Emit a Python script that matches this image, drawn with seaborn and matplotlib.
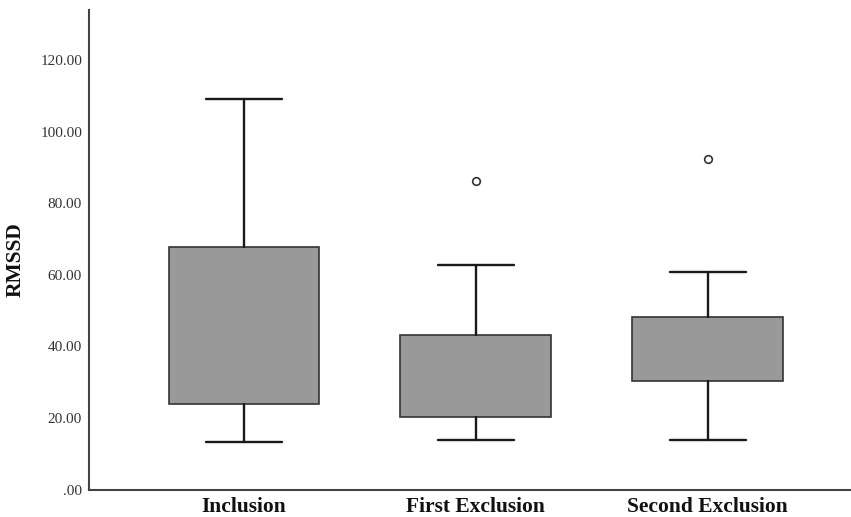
#Diagrama de caja RMSSD por fase

import seaborn as sns
import matplotlib.pyplot as plt

groups = ["Inclusion", "First Exclusion", "Second Exclusion"]
whisker_low = [13.2, 13.9, 13.8]
q1 = [23.8, 20.2, 30.4]
q3 = [67.8, 43.2, 48.3]
whisker_high = [109.2, 62.8, 60.8]
outliers = [[], [86.2], [92.4]]
yticks = [0, 20, 40, 60, 80, 100, 120]

sns.set_theme(style="white")
plt.rcParams["font.family"] = ["Liberation Serif", "DejaVu Serif"]

stats = []
for g, lo, a, b, hi, fl in zip(groups, whisker_low, q1, q3, whisker_high, outliers):
    # la mediana no se ve en la figura original, se oculta
    stats.append({"label": g, "whislo": lo, "q1": a, "med": a, "q3": b,
                  "whishi": hi, "fliers": fl})

fig = plt.figure(figsize=(8.51, 5.17), dpi=100)
ax = fig.add_axes([0.1046, 0.053, 0.895, 0.928])

ax.bxp(stats, positions=[0, 1, 2], widths=0.65, capwidths=0.33,
       patch_artist=True,
       boxprops=dict(facecolor="#999999", edgecolor="#333333", linewidth=1.2),
       whiskerprops=dict(color="#1a1a1a", linewidth=1.7),
       capprops=dict(color="#1a1a1a", linewidth=1.7),
       medianprops=dict(visible=False),
       flierprops=dict(marker="o", markersize=5.5, markerfacecolor="white",
                       markeredgecolor="#333333", markeredgewidth=1.2))

ax.set_xlim(-0.668, 2.616)
ax.set_ylim(0, 134)
ax.set_yticks(yticks)
ax.set_yticklabels([f"{v:.2f}" if v else ".00" for v in yticks],
                   fontsize=11, color="#333333")
ax.set_xticks([0, 1, 2])
ax.set_xticklabels(groups, fontsize=15.5, fontweight="bold", color="#111111")
ax.tick_params(axis="both", length=0)
ax.tick_params(axis="y", pad=5)
ax.tick_params(axis="x", pad=5)

ax.set_ylabel("RMSSD", fontsize=15.5, fontweight="bold", color="#111111")
ax.yaxis.set_label_coords(-0.083, 0.48)

sns.despine(ax=ax)
for s in ["left", "bottom"]:
    ax.spines[s].set_color("#444444")
    ax.spines[s].set_linewidth(1.5)

plt.savefig("out.png", dpi=100)
